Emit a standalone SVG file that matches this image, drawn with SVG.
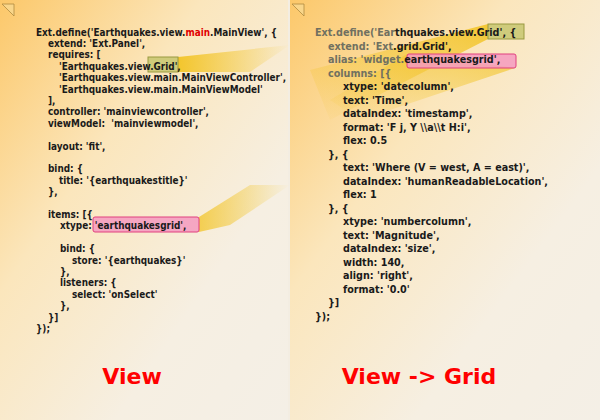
<svg xmlns="http://www.w3.org/2000/svg" width="600" height="420" viewBox="0 0 600 420">
<defs>
<linearGradient id="bg" x1="0" y1="0" x2="1" y2="1">
<stop offset="0" stop-color="#fcc86a"/><stop offset="0.35" stop-color="#fbe6bc"/><stop offset="0.7" stop-color="#f6efe2"/><stop offset="1" stop-color="#f4efe6"/>
</linearGradient>
<linearGradient id="beamL" x1="0" y1="0" x2="1" y2="0">
<stop offset="0" stop-color="#f2c21c" stop-opacity="0.9"/><stop offset="1" stop-color="#f2c21c" stop-opacity="0"/>
</linearGradient>
<linearGradient id="beamR" x1="1" y1="0" x2="0" y2="1">
<stop offset="0" stop-color="#f2c21c" stop-opacity="0.85"/><stop offset="1" stop-color="#f2c21c" stop-opacity="0"/>
</linearGradient>
<style>
.c{font-family:"DejaVu Sans Condensed","DejaVu Sans",sans-serif;font-weight:bold;fill:#1a1a1a}
.l{font-size:9.9px}
.r{font-size:10.7px}
.g{fill:#707060}
.big{font-family:"DejaVu Sans","Verdana",sans-serif;font-weight:bold;font-size:22px;fill:#ff0000}
.hg{fill:#c4c46a;fill-opacity:0.8;stroke:#9a9a40;stroke-width:1}
.hp{fill:#f59ac0;fill-opacity:0.85;stroke:#e0407e;stroke-width:1}
</style>
</defs>
<rect width="600" height="420" fill="#f3ede2"/>
<g id="left-panel">
<rect x="0" y="0" width="288" height="420" fill="url(#bg)"/>
<path d="M2 4 L14 4 L14 16 Z" fill="#f9d68a" stroke="#b08a40" stroke-width="0.8"/>
<polygon points="178,57 178,72 250,72 290,45" fill="url(#beamL)"/>
<polygon points="199,217 199,232 230,225 290,185 250,185" fill="url(#beamL)" opacity="0.8"/>
</g>
<g id="right-panel">
<rect x="290" y="0" width="310" height="420" fill="url(#bg)"/>
<path d="M292 4 L304 4 L304 16 Z" fill="#f9d68a" stroke="#b08a40" stroke-width="0.8"/>
<polygon points="488,24 488,39 330,120 310,70" fill="url(#beamR)"/>
<polygon points="407,54 515,68 360,120 330,100" fill="url(#beamR)" opacity="0.8"/>
</g>
<g id="highlights">
<rect class="hg" x="148" y="57" width="30" height="15"/>
<rect class="hp" x="93" y="217" width="106" height="15" rx="2"/>
<rect class="hg" x="488" y="24" width="36" height="15"/>
<rect class="hp" x="407" y="54" width="109" height="14" rx="2"/>
</g>
<g id="left-code" class="c l">
<text x="36" y="35.6">Ext.define('Earthquakes.view.<tspan fill="#e00000">main</tspan>.MainView', {</text>
<text x="48" y="47">extend: 'Ext.Panel',</text>
<text x="48" y="58.4">requires: [</text>
<text x="59" y="69.8">'Earthquakes.view.Grid',</text>
<text x="59" y="81.2">'Earthquakes.view.main.MainViewController',</text>
<text x="59" y="92.6">'Earthquakes.view.main.MainViewModel'</text>
<text x="48" y="104">],</text>
<text x="48" y="115.4">controller: 'mainviewcontroller',</text>
<text x="48" y="126.8" xml:space="preserve">viewModel:  'mainviewmodel',</text>
<text x="48" y="149.6">layout: 'fit',</text>
<text x="48" y="172.4">bind: {</text>
<text x="59" y="183.8">title: '{earthquakestitle}'</text>
<text x="48" y="195.2">},</text>
<text x="48" y="218">items: [{</text>
<text x="60" y="229.4">xtype: 'earthquakesgrid',</text>
<text x="60" y="252.2">bind: {</text>
<text x="72" y="263.6">store: '{earthquakes}'</text>
<text x="60" y="275">},</text>
<text x="60" y="286.4">listeners: {</text>
<text x="72" y="297.8">select: 'onSelect'</text>
<text x="60" y="309.2">},</text>
<text x="48" y="320.6">}]</text>
<text x="36" y="332">});</text>
</g>
<g id="right-code" class="c r">
<text x="315" y="36"><tspan class="g">Ext.define('Ear</tspan>thquakes.view.Grid', {</text>
<text x="328" y="49.5"><tspan class="g">extend: 'Ext</tspan>.grid.Grid',</text>
<text x="328" y="63"><tspan class="g">alias: 'widget.</tspan>earthquakesgrid',</text>
<text x="328" y="76.5"><tspan class="g">columns: [{</tspan></text>
<text x="343" y="90">xtype: 'datecolumn',</text>
<text x="343" y="103.5">text: 'Time',</text>
<text x="343" y="117">dataIndex: 'timestamp',</text>
<text x="343" y="130.5">format: 'F j, Y \\a\\t H:i',</text>
<text x="343" y="144">flex: 0.5</text>
<text x="328" y="157.5">}, {</text>
<text x="343" y="171">text: 'Where (V = west, A = east)',</text>
<text x="343" y="184.5">dataIndex: 'humanReadableLocation',</text>
<text x="343" y="198">flex: 1</text>
<text x="328" y="211.5">}, {</text>
<text x="343" y="225">xtype: 'numbercolumn',</text>
<text x="343" y="238.5">text: 'Magnitude',</text>
<text x="343" y="252">dataIndex: 'size',</text>
<text x="343" y="265.5">width: 140,</text>
<text x="343" y="279">align: 'right',</text>
<text x="343" y="292.5">format: '0.0'</text>
<text x="328" y="306">}]</text>
<text x="315" y="319.5">});</text>
</g>
<g id="labels">
<text class="big" x="132" y="384" text-anchor="middle">View</text>
<text class="big" x="419" y="384" text-anchor="middle">View -&gt; Grid</text>
</g>
</svg>
